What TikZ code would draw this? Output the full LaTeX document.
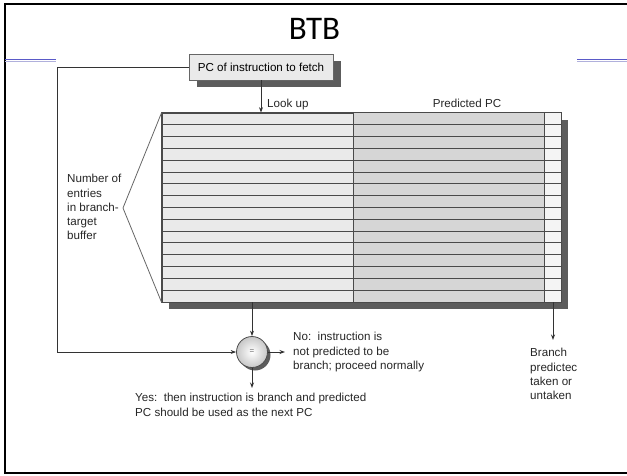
\documentclass[tikz,border=0pt]{standalone}
\usepackage{fontspec}
\setmainfont{Liberation Sans}
\newfontfamily\titlefont{Carlito}
\usetikzlibrary{arrows.meta,shadows,calc}
\definecolor{shadowc}{HTML}{5C5C5C}
\definecolor{leftc}{HTML}{EAEAEA}
\definecolor{midc}{HTML}{D6D6D6}
\definecolor{rightc}{HTML}{F4F4F4}
\definecolor{linec}{HTML}{4A4A4A}
\definecolor{connc}{HTML}{333333}
\definecolor{bluec}{HTML}{5A5AC8}
\definecolor{bluelight}{HTML}{B0B0DC}
\begin{document}
\begin{tikzpicture}[x=1pt,y=-1pt,
  conn/.style={draw=connc,line width=0.8pt},
  arr/.style={conn,-{Stealth[length=5.5pt,width=4pt]}},
  lbl/.style={font=\fontsize{11.6}{14.3}\selectfont,align=left,inner sep=0pt,anchor=north west,text=black!85},
  pcbox/.style={draw=black!60,line width=0.8pt,fill=leftc,minimum width=144pt,minimum height=26pt,inner sep=0pt,
    font=\fontsize{11.6}{14.3}\selectfont,general shadow={fill=shadowc,shadow xshift=8pt,shadow yshift=-7pt}},
  tblbox/.style={draw=linec,line width=0.8pt,fill=leftc,minimum width=399pt,minimum height=189pt,inner sep=0pt,
    general shadow={fill=shadowc,shadow xshift=7pt,shadow yshift=-7pt}},
  cmpnode/.style={circle,draw=black!70,line width=0.8pt,inner color=white,outer color=black!22,minimum size=31pt,inner sep=0pt,
    general shadow={fill=shadowc,shadow xshift=3pt,shadow yshift=-3pt}},
  rowline/.style={draw=linec,line width=1.1pt}
]
\useasboundingbox (0,0) rectangle (627,475);
% slide frame
\draw[line width=2pt] (630,3.5) -- (5,3.5) -- (5,473) -- (630,473);
% blue rules
\draw[bluec,line width=1pt] (5,59.5) -- (56,59.5);
\draw[bluelight,line width=1pt] (5,61.5) -- (56,61.5);
\draw[bluec,line width=1pt] (577,59.5) -- (630,59.5);
\draw[bluelight,line width=1pt] (577,61.5) -- (630,61.5);
% title
\node[anchor=base,inner sep=0pt,font=\titlefont\fontsize{33}{36}\selectfont] (title) at (314.5,39) {BTB};
% PC box
\node[pcbox] (pc) at (261,67) {PC of instruction to fetch};
% table
\node[tblbox] (tbl) at (361.5,207.5) {};
\fill[midc] (353,113) rectangle (544,302);
\fill[rightc] (544,113) rectangle (561,302);
\foreach \k in {1,...,15}{
  \pgfmathsetmacro{\ry}{floor(113+\k*11.8125)+0.5}
  \draw[rowline] (162,\ry) -- (561,\ry);
}
\draw[rowline,line width=1pt] (353.5,113) -- (353.5,302);
\draw[rowline,line width=1pt] (544.5,113) -- (544.5,302);
\draw[draw=linec,line width=0.8pt] (tbl.north west) rectangle (tbl.south east);
% labels above table
\node[lbl] (lookup) at (267,97.2) {\strut Look up};
\node[anchor=base,inner sep=0pt,font=\fontsize{11.6}{14.3}\selectfont,text=black!85] (predpc) at (467,107.7) {Predicted PC};
% brace
\coordinate (apex) at (123,208);
\draw[conn,draw=black!60] (tbl.north west) -- (apex) -- (tbl.south west);
\node[lbl] (entries) at (67,172.5) {\strut Number of\\entries\\in branch-\\target\\buffer};
% comparator
\node[cmpnode] (eq) at (252,352) {\fontsize{8}{8}\selectfont\color{black!60}=};
\coordinate (fb) at (57,0);
\coordinate (noend) at (285,352);
\coordinate (yesend) at (252,388);
\coordinate (bcol) at (553,0);
\coordinate (bend) at (553,340);
\draw[arr] (pc.south) -- (pc.south |- tbl.north);
\draw[arr] (pc.west) -- (pc.west -| fb) -- (eq.west -| fb) -- (eq.west);
\draw[arr] (eq.north |- tbl.south) -- (eq.north);
\draw[arr] (eq.east) -- (noend);
\draw[arr] (eq.south) -- (yesend);
\draw[arr] (bcol |- tbl.south) -- (bend);
% texts
\node[lbl] (notext) at (293,330.5) {\strut No:\ \ instruction is\\not predicted to be\\branch; proceed normally};
\node[lbl] (yestext) at (135,391.5) {\strut Yes:\ \ then instruction is branch and predicted\\PC should be used as the next PC};
\node[lbl] (brtext) at (530,346.5) {\strut Branch\\predictec\\taken or\\untaken};
\end{tikzpicture}
\end{document}
